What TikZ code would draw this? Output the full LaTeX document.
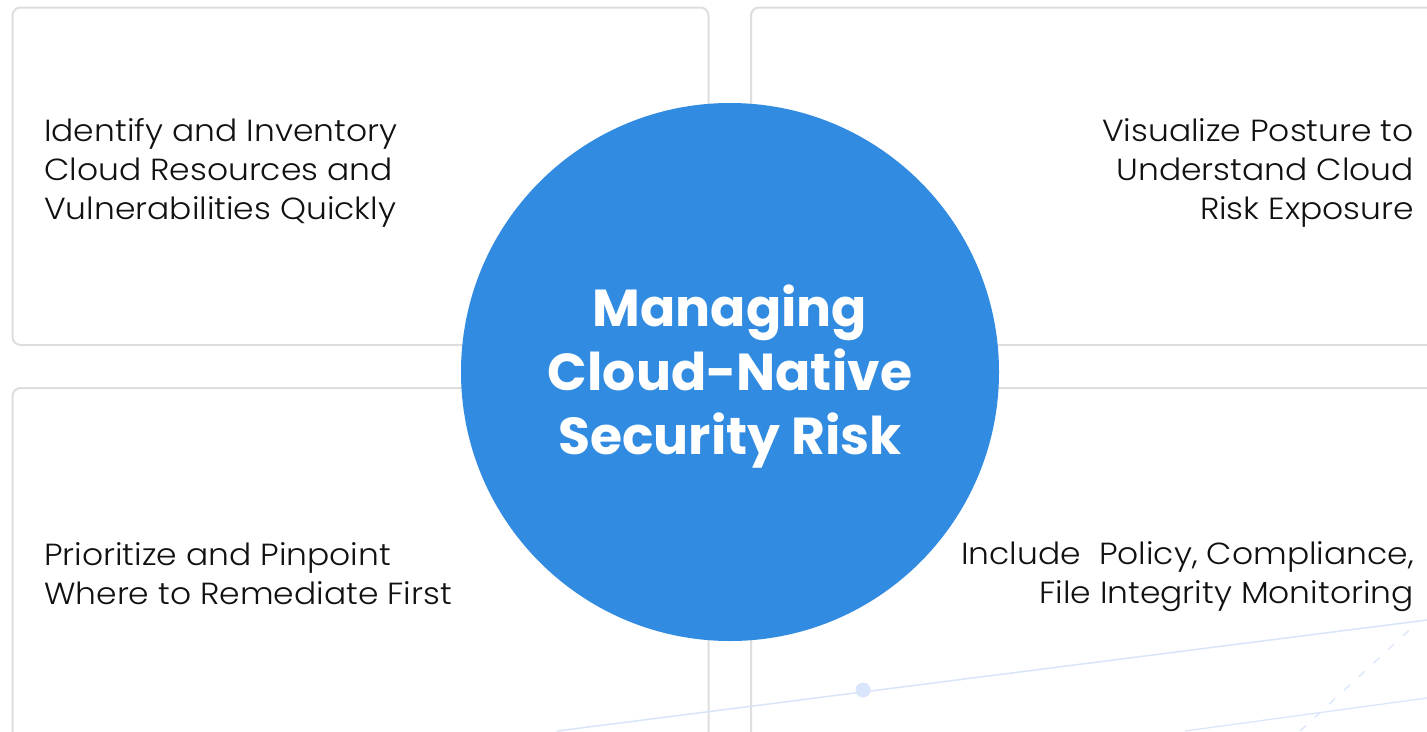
\documentclass[tikz,border=0pt]{standalone}
\usepackage{fontspec}
\setmainfont{Poppins}
\newfontfamily\bodyfont{Poppins Light}
\definecolor{boxline}{HTML}{DEDEDE}
\definecolor{circblue}{HTML}{318BE0}
\definecolor{decoblue}{HTML}{D8E5FB}
\definecolor{textdark}{HTML}{111111}
\tikzset{
  card/.style={draw=boxline, line width=2pt, fill=white, rounded corners=8pt},
  bodytext/.style={font=\bodyfont\fontsize{30.5}{39}\selectfont, text=textdark, inner sep=0pt, xscale=1.08, transform shape},
  titletext/.style={font=\bfseries\fontsize{52}{64}\selectfont, text=white, align=center, inner sep=0pt},
  hub/.style={circle, fill=circblue, minimum size=538pt, inner sep=0pt},
  decoline/.style={draw=decoblue, line width=1.5pt},
}
\begin{document}
\begin{tikzpicture}[x=1pt,y=-1pt]
\useasboundingbox (0,0) rectangle (1427,731);
\clip (0,0) rectangle (1427,731);
% cards
\draw[card] (12.5,7.5) rectangle (708.5,345);
\draw[card] (751,7.5) rectangle (1445,345);
\draw[card] (12.5,388) rectangle (708.5,750);
\draw[card] (751,388) rectangle (1445,750);
% faint background decoration
\coordinate (d1a) at (557,731);
\coordinate (d1b) at (1427,620);
\coordinate (d2a) at (1185,731);
\coordinate (d2b) at (1427,698);
\coordinate (d3a) at (1300,731);
\coordinate (d3b) at (1418,622);
\draw[decoline] (d1a) -- (d1b);
\draw[decoline, line width=1.2pt] (d2a) -- (d2b);
\draw[decoline, dash pattern=on 8pt off 12pt, line width=1.2pt] (d3a) -- (d3b);
\node[circle, fill=decoblue, minimum size=15pt, inner sep=0pt] (dot) at (863,690) {};
% central circle
\node[hub] (hub) at (730,372) {};
\node[titletext] (title) at (730,377) {Managing\\Cloud-Native\\Security Risk};
% card texts
\node[bodytext, anchor=west, align=left] (t1) at (44,173) {Identify and Inventory\\Cloud Resources and\\Vulnerabilities Quickly};
\node[bodytext, anchor=east, align=right] (t2) at (1414,173) {Visualize Posture to\\Understand Cloud\\Risk Exposure};
\node[bodytext, anchor=west, align=left] (t3) at (44,574) {Prioritize and Pinpoint\\Where to Remediate First};
\node[bodytext, anchor=east, align=right] (t4) at (1414,577) {Include~ Policy, Compliance,\\File Integrity Monitoring};
\end{tikzpicture}
\end{document}
